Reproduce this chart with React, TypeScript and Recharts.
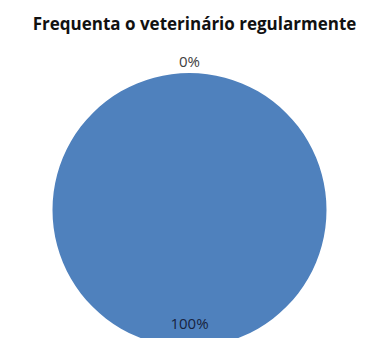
import { PieChart, Pie, Cell } from 'recharts';

const categories = ['Sim', 'Não'];
const values = [100, 0];
const labels = ['100%', '0%'];

const data = categories.map((name, i) => ({ name, value: values[i], label: labels[i] }));

const RAD = Math.PI / 180;

function renderLabel(props: any) {
  const { cx, cy, midAngle, index } = props;
  const inside = index === 0;
  const r = inside ? 113 : 149;
  const x = cx + r * Math.cos(-midAngle * RAD);
  const y = cy + r * Math.sin(-midAngle * RAD);
  return (
    <text
      x={x}
      y={y}
      textAnchor="middle"
      dominantBaseline="central"
      fontSize={15}
      fontFamily="'Open Sans', sans-serif"
      fill={inside ? '#17233d' : '#404040'}
    >
      {data[index].label}
    </text>
  );
}

export default function App() {
  return (
    <div
      style={{
        position: 'fixed',
        top: 0,
        left: 0,
        width: 371,
        height: 338,
        background: '#fff',
        overflow: 'hidden',
      }}
    >
      <div
        style={{
          position: 'absolute',
          top: 12,
          left: 9,
          width: 371,
          textAlign: 'center',
          fontFamily: "'Open Sans', sans-serif",
          fontWeight: 700,
          fontSize: 17,
          color: '#111',
          lineHeight: '24px',
        }}
      >
        Frequenta o veterinário regularmente
      </div>
      <PieChart width={371} height={338} margin={{ top: 0, right: 0, bottom: 0, left: 0 }}>
        <Pie
          data={data}
          dataKey="value"
          nameKey="name"
          cx={189.5}
          cy={210}
          outerRadius={137}
          startAngle={90}
          endAngle={-270}
          stroke="none"
          label={renderLabel}
          labelLine={false}
          isAnimationActive={false}
        >
          {data.map((d) => (
            <Cell key={d.name} fill="#4F81BD" />
          ))}
        </Pie>
      </PieChart>
    </div>
  );
}
